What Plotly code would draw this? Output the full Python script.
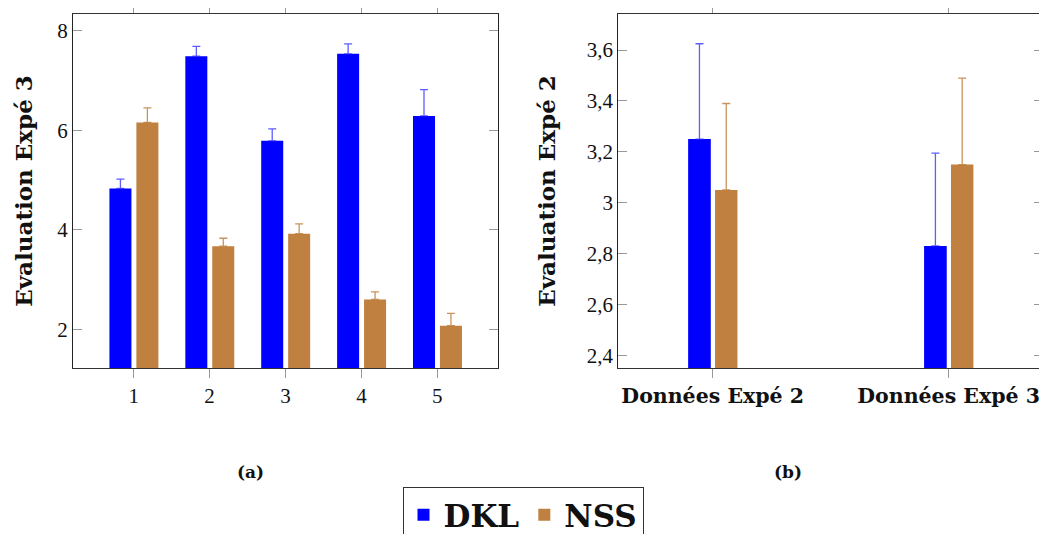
import plotly.graph_objects as go

# ---- data ----
runs = [1, 2, 3, 4, 5]
dkl_exp3 = [4.83, 7.49, 5.79, 7.54, 6.29]
dkl_exp3_err = [0.19, 0.20, 0.24, 0.20, 0.53]
nss_exp3 = [6.16, 3.67, 3.92, 2.60, 2.07]
nss_exp3_err = [0.29, 0.16, 0.20, 0.15, 0.25]

datasets = ["Données Expé 2", "Données Expé 3"]
dkl_exp2 = [3.25, 2.83]
dkl_exp2_err = [0.375, 0.365]
nss_exp2 = [3.05, 3.15]
nss_exp2_err = [0.34, 0.34]

BLUE = "#0000ff"
BROWN = "#bf8040"
BLUE_ERR = "rgba(40,40,255,0.75)"
BROWN_ERR = "rgba(191,128,64,0.85)"
SERIF = "Liberation Serif"
BOLD = "DejaVu Serif"

fig = go.Figure()


def err(vals, color):
    return dict(type="data", symmetric=False, array=vals, arrayminus=[0] * len(vals),
                color=color, thickness=1.3, width=4)


# left panel
fig.add_trace(go.Bar(x=runs, y=dkl_exp3, name="DKL", marker_color=BLUE, marker_line_width=0,
                     width=0.29, offset=-0.32, error_y=err(dkl_exp3_err, BLUE_ERR),
                     xaxis="x", yaxis="y", legendgroup="DKL"))
fig.add_trace(go.Bar(x=runs, y=nss_exp3, name="NSS", marker_color=BROWN, marker_line_width=0,
                     width=0.29, offset=0.035, error_y=err(nss_exp3_err, BROWN_ERR),
                     xaxis="x", yaxis="y", legendgroup="NSS"))
# right panel
fig.add_trace(go.Bar(x=datasets, y=dkl_exp2, name="DKL", marker_color=BLUE, marker_line_width=0,
                     width=0.096, offset=-0.104, error_y=err(dkl_exp2_err, BLUE_ERR),
                     xaxis="x2", yaxis="y2", legendgroup="DKL", showlegend=False))
fig.add_trace(go.Bar(x=datasets, y=nss_exp2, name="NSS", marker_color=BROWN, marker_line_width=0,
                     width=0.095, offset=0.010, error_y=err(nss_exp2_err, BROWN_ERR),
                     xaxis="x2", yaxis="y2", legendgroup="NSS", showlegend=False))

# page body has an 8px default margin: the figure is drawn 8px right/down
OFF = 8
W, H = 1047 - OFF, 534 - OFF
ML, MR, MT, MB = 73 - OFF, 4, 14 - OFF, 166
PW = W - ML - MR
PH = H - MT - MB


def px_x(p):
    return (p - OFF - ML) / PW


def px_y(p):
    return (H - MB - (p - OFF)) / PH


common_x = dict(showline=True, linecolor="#333", linewidth=1, mirror="allticks",
                ticks="outside", ticklen=9, tickcolor="#999", tickwidth=1,
                showgrid=False, zeroline=False,
                tickfont=dict(family=SERIF, size=21, color="#111"))
common_y = dict(showline=True, linecolor="#222", linewidth=1, mirror="allticks",
                ticks="inside", ticklen=9, tickcolor="#999", tickwidth=1,
                showgrid=False, zeroline=False,
                tickfont=dict(family=SERIF, size=21, color="#111"))

bold_font = lambda s: dict(family=BOLD, size=s, color="#111", weight="bold")

fig.update_layout(
    width=W, height=H,
    margin=dict(l=ML, r=MR, t=MT, b=MB, autoexpand=False),
    paper_bgcolor="white", plot_bgcolor="white",
    separators=", ",
    barmode="overlay",
    xaxis=dict(domain=[0, px_x(498)], range=[0.2, 5.8], tickvals=runs, anchor="y", **common_x),
    yaxis=dict(domain=[0, 1], range=[1.22, 8.34], tick0=0, dtick=2, anchor="x",
               title=dict(text="Evaluation Expé 3", font=bold_font(23), standoff=18),
               **common_y),
    xaxis2=dict(domain=[px_x(618.3), 1], range=[-0.4, 1.4], type="category", anchor="y2",
                **{**common_x, "tickfont": bold_font(20.5)}),
    yaxis2=dict(domain=[0, 1], range=[2.35, 3.742], tick0=2.4, dtick=0.2, anchor="x2",
                title=dict(text="Evaluation Expé 2", font=bold_font(23), standoff=24),
                **common_y),
    showlegend=True,
    legend=dict(orientation="h", x=px_x(523), xanchor="center", y=px_y(487), yanchor="top",
                font=bold_font(31),
                bordercolor="#333", borderwidth=1, bgcolor="white",
                traceorder="normal", itemwidth=30),
    annotations=[
        dict(text="(a)", x=px_x(250), y=px_y(472), xref="paper", yref="paper",
             showarrow=False, font=bold_font(17), xanchor="center", yanchor="middle"),
        dict(text="(b)", x=px_x(788), y=px_y(472), xref="paper", yref="paper",
             showarrow=False, font=bold_font(17), xanchor="center", yanchor="middle"),
    ],
)

fig.write_html("out.html")
